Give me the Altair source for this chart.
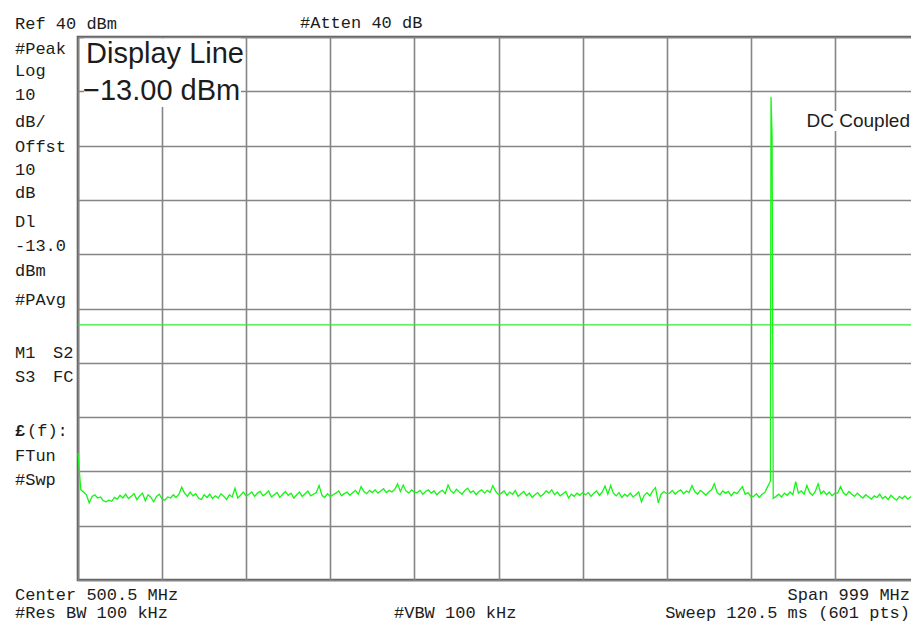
import altair as alt
import pandas as pd
import numpy as np

# ---------------- data ----------------
start_mhz = 1.0
stop_mhz = 1000.0
ref_level_dbm = 40.0
bottom_dbm = -60.0
display_line_dbm = -13.0

trace_start_dbm = -36.6  # LO feedthrough at the first sweep point

noise_div1 = [-43.4, -43.8, -44.3, -45.8, -44.6, -44.3, -44.9, -44.7, -45.4, -45.6,
              -45.3, -45.5, -44.8, -45.1, -44.4, -44.9, -44.2, -45.0, -44.6, -44.1,
              -45.2, -44.5, -44.0, -45.4, -44.3, -44.8, -45.6, -44.6, -44.2, -45.1]
noise_div2 = [-45.3, -44.7, -44.9, -44.3, -44.8, -44.2, -42.9, -44.0, -44.6, -43.8,
              -44.5, -44.1, -44.9, -45.2, -44.3, -44.8, -44.2, -45.0, -44.5, -44.9,
              -44.1, -44.6, -45.2, -44.3, -44.7, -43.1, -44.9, -44.4, -43.8, -44.5]
noise_div3 = [-44.2, -43.8, -44.6, -44.0, -43.7, -44.5, -44.1, -43.6, -44.7, -44.3,
              -43.9, -44.8, -44.2, -43.7, -44.4, -44.0, -44.9, -44.3, -43.8, -44.6,
              -44.1, -43.6, -44.5, -44.2, -43.9, -42.6, -44.4, -44.8, -44.1, -44.6]
noise_div4 = [-44.3, -44.0, -43.6, -44.5, -44.1, -43.8, -44.4, -43.9, -43.5, -44.2,
              -42.8, -43.7, -44.1, -43.5, -43.9, -43.4, -44.0, -43.6, -43.2, -43.9,
              -43.5, -43.8, -43.3, -42.3, -43.7, -42.5, -43.6, -44.0, -43.4, -43.8]
noise_div5 = [-43.9, -43.5, -44.2, -43.7, -43.4, -44.0, -43.6, -44.3, -43.8, -43.5,
              -44.1, -42.5, -43.6, -44.0, -43.3, -43.8, -44.2, -43.5, -43.1, -43.9,
              -43.6, -44.3, -43.7, -43.4, -44.0, -43.5, -43.9, -42.6, -43.7, -44.3]
noise_div6 = [-44.0, -43.6, -44.4, -43.8, -44.2, -43.5, -44.6, -44.1, -43.7, -44.5,
              -44.0, -44.8, -44.3, -43.9, -44.6, -44.2, -43.6, -44.0, -43.4, -44.3,
              -43.8, -44.5, -44.1, -43.7, -44.9, -44.2, -44.6, -44.0, -44.4, -43.9]
noise_div7 = [-44.3, -43.9, -44.6, -44.0, -43.6, -44.4, -43.8, -42.7, -44.2, -42.6,
              -44.0, -44.5, -43.9, -44.8, -44.2, -44.6, -44.0, -44.7, -44.3, -43.8,
              -45.6, -44.4, -43.9, -44.5, -43.6, -43.0, -45.8, -44.2, -43.7, -44.1]
noise_div8 = [-44.0, -43.5, -44.2, -43.7, -43.4, -44.1, -43.6, -43.9, -42.6, -43.7,
              -44.2, -43.5, -43.9, -44.4, -43.8, -43.4, -42.3, -43.9, -44.3, -43.6,
              -44.0, -43.7, -44.5, -43.8, -44.1, -43.5, -42.8, -44.2, -43.9, -44.6]
noise_div9 = [-44.6, -44.1, -44.8, -44.2, -43.9, -42.8, -41.8, -45.0, -44.6, -44.2,
              -44.7, -44.0, -44.4, -43.8, -44.3, -41.9, -44.0, -43.6, -44.2, -42.6,
              -43.9, -44.4, -43.7, -42.3, -44.1, -43.6, -44.3, -43.8, -44.5, -44.0]
noise_div10 = [-44.0, -42.8, -43.9, -44.4, -43.7, -44.2, -44.6, -44.0, -44.5, -44.9,
               -44.3, -44.7, -45.1, -44.5, -44.8, -44.2, -45.0, -44.6, -45.2, -44.4,
               -44.9, -45.3, -44.6, -45.0, -44.5, -45.1, -44.7, -44.3, -44.8, -43.9]

peak_freq_mhz = [824.2, 825.5]
peak_dbm = [29.0, 21.6]

top_labels = ["Ref 40 dBm", "#Atten 40 dB"]
side_labels = ["#Peak", "Log", "10", "dB/", "Offst", "10", "dB", "Dl", "-13.0",
               "dBm", "#PAvg", "M1", "S2", "S3", "FC", "(f):", "FTun", "#Swp"]
bottom_labels = ["Center 500.5 MHz", "#Res BW 100 kHz", "#VBW 100 kHz",
                 "Span 999 MHz", "Sweep 120.5 ms (601 pts)"]
box_labels = ["Display Line", "\u221213.00 dBm"]
coupling_label = "DC Coupled"

# ---------------- build the trace table ----------------
levels = [trace_start_dbm] + noise_div1 + noise_div2 + noise_div3 + noise_div4 + \
    noise_div5 + noise_div6 + noise_div7 + noise_div8 + noise_div9 + noise_div10
n = len(levels)
freqs = start_mhz + np.arange(n) * (stop_mhz - start_mhz) / (n - 1)
trace = pd.DataFrame({"freq": list(freqs) + peak_freq_mhz,
                      "dbm": levels + peak_dbm}).sort_values("freq")

x_grid = [start_mhz + k * (stop_mhz - start_mhz) / 10 for k in range(11)]
y_grid = list(range(int(bottom_dbm), int(ref_level_dbm) + 1, 10))

W, H = 841, 543
X0, Y0 = 78, 37  # page position of the plot area (used for annotation layout)
PAD_BOTTOM = 44  # keeps the page within 632 px
PAD_RIGHT = -8   # keeps the svg within the page width (right edge runs off like the screen)

xscale = alt.Scale(domain=[start_mhz, stop_mhz], nice=False, zero=False)
yscale = alt.Scale(domain=[bottom_dbm, ref_level_dbm], nice=False, zero=False)
grid_axis = dict(grid=True, labels=False, ticks=False, domain=False, title=None,
                 gridColor="#858585", gridWidth=1.6, gridOpacity=1)

trace_layer = alt.Chart(trace).mark_line(color="#16f516", strokeWidth=1.3,
                                         interpolate="linear").encode(
    x=alt.X("freq:Q", scale=xscale, axis=alt.Axis(values=x_grid, **grid_axis)),
    y=alt.Y("dbm:Q", scale=yscale, axis=alt.Axis(values=y_grid, **grid_axis)),
)

dl_layer = alt.Chart(pd.DataFrame({"dl": [display_line_dbm]})).mark_rule(
    color="#33e833", strokeWidth=1.2).encode(y=alt.Y("dl:Q", scale=yscale))

MONO = "Liberation Mono"
SANS = "Liberation Sans"
INK = "#1c1c1c"


def rect(px, px2, py, py2):
    return alt.Chart(pd.DataFrame({"a": [0]})).mark_rect(color="white").encode(
        x=alt.value(px - X0), x2=alt.value(px2 - X0),
        y=alt.value(py - Y0), y2=alt.value(py2 - Y0))


def label(txt, px, py, font=MONO, size=17, align="left", weight="normal"):
    return alt.Chart(pd.DataFrame({"t": [txt]})).mark_text(
        font=font, fontSize=size, align=align, baseline="alphabetic",
        color=INK, fontWeight=weight).encode(
        text="t:N", x=alt.value(px - X0), y=alt.value(py - Y0))


layers = [trace_layer,
          rect(84, 241, 38.5, 107),
          rect(804, 912, 111, 131),
          dl_layer]

# top line
layers.append(label(top_labels[0], 15, 29))
layers.append(label(top_labels[1], 300, 28))

# left annotation column
side_pos = [(15, 54), (15, 76), (15, 100), (15, 127), (15, 152), (15, 175),
            (15, 198), (15, 227), (15, 251), (15, 276), (15, 305),
            (15, 358), (53, 358), (15, 382), (53, 382),
            (27, 436), (15, 461), (15, 485)]
for txt, (px, py) in zip(side_labels, side_pos):
    layers.append(label(txt, px, py))
layers.append(label("\u00a3", 15, 436, weight="bold"))

# bottom lines
layers.append(label(bottom_labels[0], 15, 600))
layers.append(label(bottom_labels[1], 15, 618))
layers.append(label(bottom_labels[2], 394, 618))
layers.append(label(bottom_labels[3], 910, 600, align="right"))
layers.append(label(bottom_labels[4], 910, 618, align="right"))

# boxed display-line readout and coupling note
layers.append(label(box_labels[0], 86, 63, font=SANS, size=29))
layers.append(label(box_labels[1], 83, 100, font=SANS, size=29))
layers.append(label(coupling_label, 910, 127, font=SANS, size=19, align="right"))

chart = alt.layer(*layers).properties(
    width=W, height=H,
    autosize=alt.AutoSizeParams(type="none"),
    padding={"left": X0 - 8, "top": Y0 - 8, "right": PAD_RIGHT, "bottom": PAD_BOTTOM},
    background="white",
).configure_view(stroke="#5e5e5e", strokeWidth=2.6)

chart.save("out.html", embed_options={"renderer": "svg", "actions": False})
